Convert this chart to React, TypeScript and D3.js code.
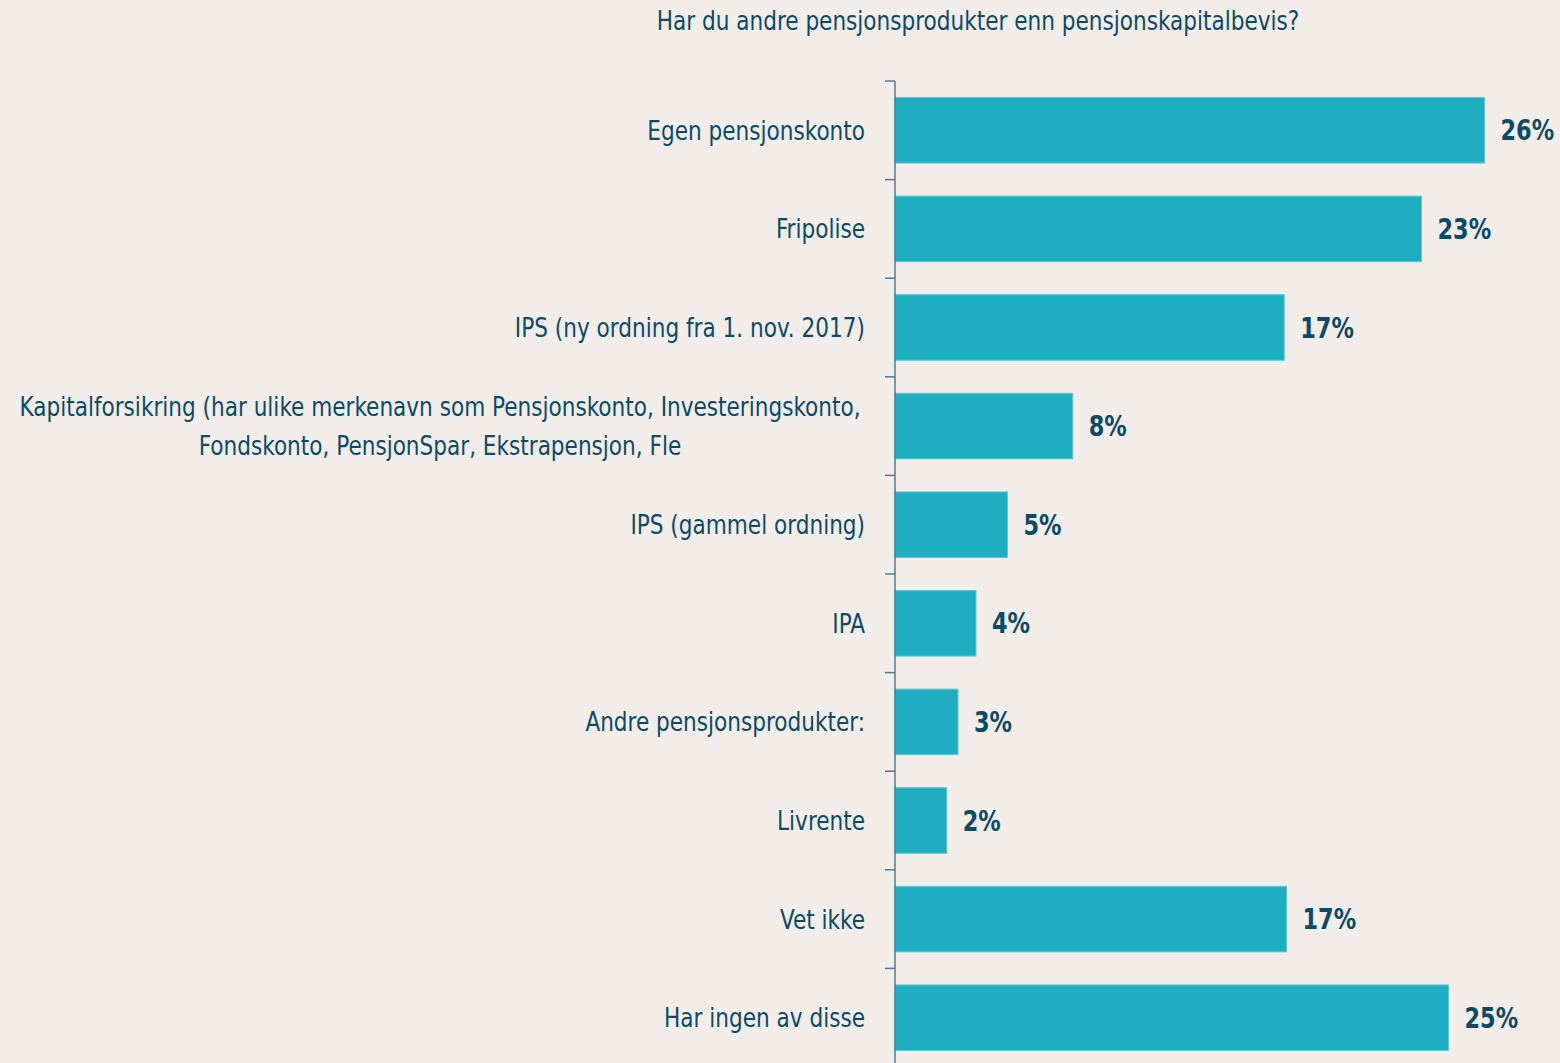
import React from "react";
import * as d3 from "d3";

const categories: string[][] = [
  ["Egen pensjonskonto"],
  ["Fripolise"],
  ["IPS (ny ordning fra 1. nov. 2017)"],
  ["Kapitalforsikring (har ulike merkenavn som Pensjonskonto, Investeringskonto,", "Fondskonto, PensjonSpar, Ekstrapensjon, Fle"],
  ["IPS (gammel ordning)"],
  ["IPA"],
  ["Andre pensjonsprodukter:"],
  ["Livrente"],
  ["Vet ikke"],
  ["Har ingen av disse"],
];
const values: number[] = [26.2, 23.4, 17.3, 7.9, 5.0, 3.6, 2.8, 2.3, 17.4, 24.6];
const title = "Har du andre pensjonsprodukter enn pensjonskapitalbevis?";

const W = 1560;
const H = 1063;
const BG = "#F2EDE9";
const BAR = "#1EADC1";
const TEXT = "#0C4A66";
const AXIS = "#56788C";
const FONT = "'DejaVu Sans Condensed', 'DejaVu Sans', sans-serif";
const SX = 0.89;

function T(props: {
  x: number;
  y: number;
  anchor?: "start" | "middle" | "end";
  size: number;
  bold?: boolean;
  sx?: number;
  children: React.ReactNode;
}) {
  const { x, y, anchor = "start", size, bold, sx = SX, children } = props;
  return (
    <text
      transform={`translate(${x},${y}) scale(${sx},1)`}
      textAnchor={anchor}
      fontSize={size}
      fontWeight={bold ? "bold" : "normal"}
      fill={TEXT}
    >
      {children}
    </text>
  );
}

export default function App() {
  const axisX = 895;
  const y = d3
    .scaleBand<number>()
    .domain(d3.range(categories.length))
    .range([81, 1067])
    .paddingInner(0.335)
    .paddingOuter(0.1675);
  const x = d3.scaleLinear().domain([0, 29]).range([axisX, axisX + 29 * 22.5]);
  const step = y.step();
  const ticks = d3.range(categories.length + 1).map((i) => 81 + i * step);

  return (
    <svg
      width={W}
      height={H}
      style={{ position: "absolute", left: 0, top: 0, background: BG }}
      fontFamily={FONT}
    >
      <rect x={0} y={0} width={W} height={H} fill={BG} />
      <T x={978} y={30} anchor="middle" size={27}>
        {title}
      </T>
      {values.map((v, i) => (
        <rect
          key={"b" + i}
          x={x(0)}
          y={y(i)!}
          width={x(v) - x(0)}
          height={y.bandwidth()}
          fill={BAR}
          stroke="#63C6D4"
          strokeWidth={1}
        />
      ))}
      <line x1={axisX} x2={axisX} y1={81} y2={H} stroke={AXIS} strokeWidth={1.5} />
      {ticks.map((t, i) => (
        <line key={"t" + i} x1={axisX - 10} x2={axisX} y1={t} y2={t} stroke={AXIS} strokeWidth={1.5} />
      ))}
      {categories.map((lines, i) => {
        const cy = y(i)! + y.bandwidth() / 2;
        if (lines.length === 1) {
          return (
            <T key={"c" + i} x={865} y={cy + 9.5} anchor="end" size={27}>
              {lines[0]}
            </T>
          );
        }
        return (
          <g key={"c" + i}>
            {lines.map((l, j) => (
              <T key={j} x={440} y={cy + 9.5 - 19.5 + j * 39} anchor="middle" size={27}>
                {l}
              </T>
            ))}
          </g>
        );
      })}
      {values.map((v, i) => (
        <T key={"v" + i} x={x(v) + 16} y={y(i)! + y.bandwidth() / 2 + 10} size={29} bold sx={0.86}>
          {Math.round(v) + "%"}
        </T>
      ))}
    </svg>
  );
}
